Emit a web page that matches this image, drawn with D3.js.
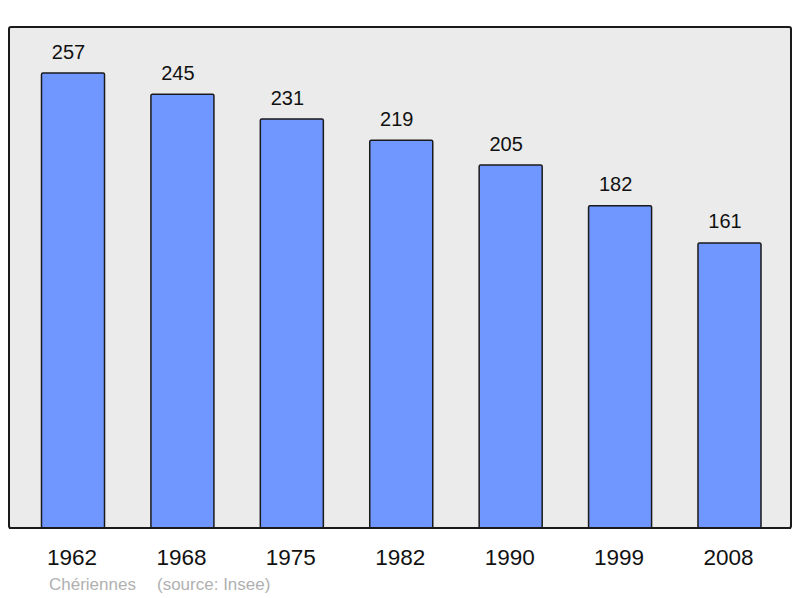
<!DOCTYPE html>
<html><head><meta charset="utf-8">
<script src="https://cdn.jsdelivr.net/npm/d3@7"></script>
<style>body{margin:0;background:#fff}svg{display:block}</style>
</head><body>
<script>
const years = ["1962","1968","1975","1982","1990","1999","2008"];
const population = [257,245,231,219,205,182,161];
const title = "Chériennes";
const source = "(source: Insee)";

const W = 800, H = 598;
const svg = d3.select("body").append("svg").attr("width", W).attr("height", H);
const font = "'Liberation Sans', Arial, sans-serif";

const x = d3.scaleBand().domain(years).range([18.3, 784.2]).paddingInner(0.424).paddingOuter(0.212);
const y = d3.scaleLinear().domain([0, 283]).range([528, 27]);

svg.append("rect").attr("x", 9).attr("y", 27).attr("width", 782).attr("height", 501)
  .attr("rx", 2).attr("fill", "#ebebeb").attr("stroke", "#1a1a1a").attr("stroke-width", 2);

svg.selectAll("rect.bar").data(population).join("rect").attr("class","bar")
  .attr("x", (d,i) => x(years[i])).attr("width", x.bandwidth())
  .attr("y", d => y(d)).attr("height", d => y(0) - y(d))
  .attr("rx", 1.5)
  .attr("fill", "#7096ff").attr("stroke", "#1a1a1a").attr("stroke-width", 1.5);

svg.append("line").attr("x1", 9).attr("x2", 791).attr("y1", 528).attr("y2", 528)
  .attr("stroke", "#1a1a1a").attr("stroke-width", 2);

svg.selectAll("text.val").data(population).join("text").attr("class","val")
  .attr("x", (d,i) => x(years[i]) + x.bandwidth()/2 - 4.5).attr("y", d => y(d) - 14.5)
  .attr("text-anchor", "middle").attr("font-family", font).attr("font-size", 20)
  .attr("fill", "#111").text(d => d);

const xAxis = d3.axisBottom(x).tickSize(0).tickPadding(0);
const ax = svg.append("g").attr("transform", "translate(0,548)").call(xAxis);
ax.select(".domain").remove();
ax.selectAll("text").attr("font-family", font).attr("font-size", 22.5).attr("fill", "#111")
  .attr("dy", null).attr("y", 17).attr("dx", -1);

svg.append("text").attr("x", 49).attr("y", 590).attr("font-family", font).attr("font-size", 17)
  .attr("fill", "#b0b0b0").text(title);
svg.append("text").attr("x", 157).attr("y", 590).attr("font-family", font).attr("font-size", 17)
  .attr("fill", "#b0b0b0").text(source);
</script>
</body></html>
